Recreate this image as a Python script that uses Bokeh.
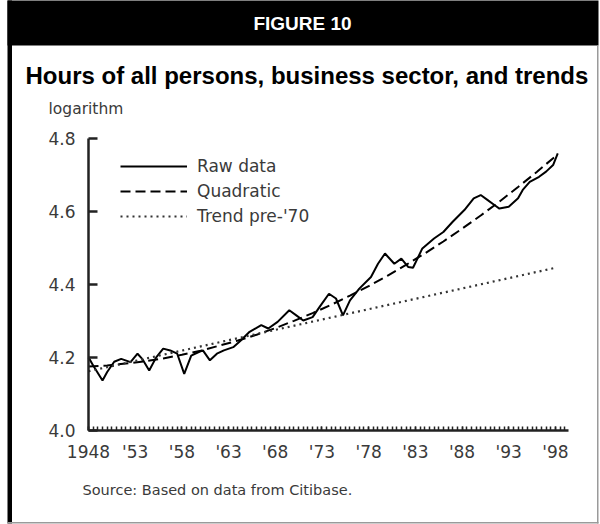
from bokeh.plotting import figure
from bokeh.models import (FixedTicker, Range1d, Label, BoxAnnotation, Legend,
                          LegendItem, PrintfTickFormatter)
from bokeh.embed import file_html
from bokeh.resources import INLINE

# ---------------- data ----------------
raw_years = [1948.0, 1948.5, 1949.5, 1950.0, 1950.75, 1951.5, 1952.5, 1953.25, 1953.75,
             1954.5, 1955.25, 1956.0, 1956.75, 1957.5, 1958.25, 1959.0, 1959.75, 1960.25,
             1961.0, 1961.75, 1962.5, 1963.5, 1964.25, 1965.25, 1966.5, 1967.25, 1968.25,
             1969.5, 1970.25, 1971.0, 1972.0, 1972.75, 1973.75, 1974.5, 1975.25, 1976.0,
             1977.0, 1978.25, 1979.0, 1979.75, 1980.75, 1981.5, 1982.25, 1982.75, 1983.75,
             1985.0, 1986.0, 1987.0, 1988.25, 1989.25, 1990.0, 1990.75, 1991.5, 1992.0,
             1993.0, 1994.0, 1994.5, 1995.25, 1996.25, 1997.0, 1997.75, 1998.25]
raw_values = [4.200, 4.178, 4.137, 4.160, 4.188, 4.196, 4.187, 4.210, 4.196,
              4.164, 4.200, 4.224, 4.219, 4.210, 4.155, 4.205, 4.214, 4.219,
              4.192, 4.210, 4.219, 4.228, 4.245, 4.270, 4.288, 4.279, 4.297,
              4.329, 4.315, 4.301, 4.310, 4.338, 4.374, 4.361, 4.315, 4.356,
              4.388, 4.420, 4.456, 4.484, 4.456, 4.470, 4.447, 4.445, 4.498,
              4.525, 4.543, 4.571, 4.603, 4.635, 4.644, 4.630, 4.616, 4.607,
              4.612, 4.635, 4.658, 4.680, 4.694, 4.708, 4.726, 4.758]

quad_years = [1948, 1950, 1952, 1954, 1956, 1958, 1960, 1962, 1964, 1966, 1968, 1970, 1972,
              1974, 1976, 1978, 1980, 1982, 1984, 1986, 1988, 1990, 1992, 1994, 1996, 1998]
quad_values = [4.175, 4.178, 4.183, 4.189, 4.197, 4.207, 4.218, 4.232, 4.246, 4.262, 4.280,
               4.300, 4.321, 4.344, 4.369, 4.395, 4.423, 4.453, 4.484, 4.517, 4.552, 4.588,
               4.626, 4.666, 4.707, 4.750]

trend_years = [1948, 1998]
trend_values = [4.162, 4.445]

x_tick_years = [1948, 1953, 1958, 1963, 1968, 1973, 1978, 1983, 1988, 1993, 1998]
x_tick_labels = ["1948", "'53", "'58", "'63", "'68", "'73", "'78", "'83", "'88", "'93", "'98"]
x_minor_ticks = [1948 + 0.5 * i for i in range(0, 103)]
y_ticks = [4.0, 4.2, 4.4, 4.6, 4.8]
x_axis_bounds = (1948, 1999.4)
y_axis_bounds = (4.0, 4.8)

legend_labels = ["Raw data", "Quadratic", "Trend pre-'70"]
header_text = "FIGURE 10"
title_text = "Hours of all persons, business sector, and trends"
y_unit_text = "logarithm"
source_text = "Source: Based on data from Citibase."

# ---------------- layout (pixels) ----------------
W, H = 600, 524
AX_L, AX_R = 88, 568        # x-axis extent on the canvas
AX_B, AX_T = 430, 137.5     # y-axis extent on the canvas
FONT = "DejaVu Sans"
INK = "#222222"
GREY_TXT = "#3a3a3a"

px_x = (AX_R - AX_L) / (x_axis_bounds[1] - x_axis_bounds[0])
px_y = (AX_B - AX_T) / (y_axis_bounds[1] - y_axis_bounds[0])
x_range = Range1d(x_axis_bounds[0] - AX_L / px_x, x_axis_bounds[0] + (W - AX_L) / px_x)
y_range = Range1d(y_axis_bounds[0] - (H - AX_B) / px_y, y_axis_bounds[0] + AX_B / px_y)

p = figure(width=W, height=H, output_backend="svg", toolbar_location=None,
           x_range=x_range, y_range=y_range)
p.min_border = 0
p.outline_line_color = None
p.grid.visible = False
p.background_fill_color = "white"
p.border_fill_color = "white"


def sy(cy):
    return H - cy


# axes (drawn inside the full-canvas frame)
xa = p.xaxis[0]
xa.fixed_location = y_axis_bounds[0]
xa.bounds = x_axis_bounds
xa.ticker = FixedTicker(ticks=x_tick_years, minor_ticks=x_minor_ticks)
xa.major_label_overrides = {yr: lab for yr, lab in zip(x_tick_years, x_tick_labels)}
xa.axis_line_width = 2.5
xa.axis_line_color = INK
xa.major_tick_in = 4
xa.major_tick_out = 0
xa.minor_tick_in = 4
xa.minor_tick_out = 0
xa.major_tick_line_color = INK
xa.minor_tick_line_color = INK
xa.major_tick_line_width = 1.5
xa.minor_tick_line_width = 1.5
xa.major_label_text_font = FONT
xa.major_label_text_font_size = "17px"
xa.major_label_text_color = GREY_TXT
xa.major_label_standoff = 11

ya = p.yaxis[0]
ya.fixed_location = x_axis_bounds[0]
ya.bounds = y_axis_bounds
ya.ticker = FixedTicker(ticks=y_ticks)
ya.formatter = PrintfTickFormatter(format="%.1f")
ya.axis_line_width = 2.5
ya.axis_line_color = INK
ya.major_tick_in = 9
ya.major_tick_out = 0
ya.minor_tick_line_color = None
ya.major_tick_line_color = INK
ya.major_tick_line_width = 2.5
ya.major_label_text_font = FONT
ya.major_label_text_font_size = "17px"
ya.major_label_text_color = GREY_TXT
ya.major_label_standoff = 13

# series
r_raw = p.line(raw_years, raw_values, line_color="black", line_width=2)
r_quad = p.line(quad_years, quad_values, line_color="black", line_width=2, line_dash="10 5")
r_trend = p.line(trend_years, trend_values, line_color="#333333", line_width=2.2, line_dash="2 4")

legend = Legend(items=[LegendItem(label=legend_labels[0], renderers=[r_raw]),
                       LegendItem(label=legend_labels[1], renderers=[r_quad]),
                       LegendItem(label=legend_labels[2], renderers=[r_trend])],
                location=(120, sy(226)),
                glyph_width=67, glyph_height=20, label_height=20, label_standoff=10,
                spacing=5, padding=0, margin=0, border_line_color=None,
                background_fill_alpha=0, label_text_font=FONT,
                label_text_font_size="17px", label_text_color=GREY_TXT)
p.add_layout(legend)


def box(l, r, t, b, color):
    p.add_layout(BoxAnnotation(left=l, right=r, top=sy(t), bottom=sy(b),
                               left_units="screen", right_units="screen",
                               top_units="screen", bottom_units="screen",
                               fill_color=color, fill_alpha=1, line_color=None,
                               level="overlay"))


# frame decorations
box(7, 598, -2, 45, "black")          # header band
box(7, 11.5, -2, 523, "black")         # left rule
box(596.5, 598, 45, 523, "#9a9a9a")    # right rule
box(7, 598, 521.5, 523, "#9a9a9a")     # bottom rule

# texts
p.add_layout(Label(x=302, y=sy(23), x_units="screen", y_units="screen",
                   text=header_text, text_align="center", text_baseline="middle",
                   text_font="Liberation Sans", text_font_style="bold",
                   text_font_size="19px", text_color="white", level="overlay"))
p.add_layout(Label(x=25, y=sy(75), x_units="screen", y_units="screen",
                   text=title_text, text_align="left", text_baseline="alphabetic",
                   text_font="Liberation Sans", text_font_style="bold",
                   text_font_size="24px", text_color="black"))
p.add_layout(Label(x=48, y=sy(108), x_units="screen", y_units="screen",
                   text=y_unit_text, text_align="left", text_baseline="middle",
                   text_font=FONT, text_font_size="15.5px", text_color=GREY_TXT))
p.add_layout(Label(x=82, y=sy(489), x_units="screen", y_units="screen",
                   text=source_text, text_align="left", text_baseline="middle",
                   text_font=FONT, text_font_size="14.5px", text_color=GREY_TXT))

open("out.html", "w").write(file_html(p, INLINE))
